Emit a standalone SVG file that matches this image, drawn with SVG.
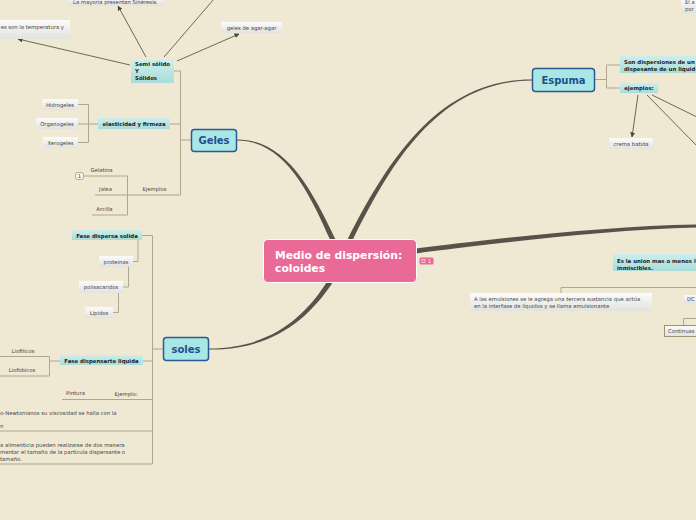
<svg xmlns="http://www.w3.org/2000/svg" width="696" height="520" viewBox="0 0 696 520">
<defs>
<linearGradient id="gLeaf" x1="0" y1="0" x2="0" y2="1"><stop offset="0" stop-color="#fbfbfb"/><stop offset="1" stop-color="#e2e2e0"/></linearGradient>
<linearGradient id="gSub" x1="0" y1="0" x2="0" y2="1"><stop offset="0" stop-color="#cdeeed"/><stop offset="1" stop-color="#a9dcda"/></linearGradient>
<marker id="ah" viewBox="0 0 6 6" refX="5.5" refY="3" markerWidth="5" markerHeight="5" markerUnits="userSpaceOnUse" orient="auto"><path d="M0,0 L6,3 L0,6 Z" fill="#4a463f"/></marker>
<style>
.bg{fill:#efe8d2}
.main{fill:#a9e7e4;stroke:#2a5a96;stroke-width:1.5}
.mt{font-family:"DejaVu Sans",Verdana,sans-serif;font-weight:bold;font-size:10px;fill:#1d4f91;text-anchor:middle}
.sub{fill:url(#gSub)}
.st{font-family:"DejaVu Sans",Verdana,sans-serif;font-weight:bold;font-size:5.4px;fill:#222}
.leaf{fill:url(#gLeaf)}
.lt{font-family:"DejaVu Sans",Verdana,sans-serif;font-size:5.3px;fill:#444}
.c{text-anchor:middle}
.br{fill:none;stroke:#b0a68f;stroke-width:1}
.ar{fill:none;stroke:#4a463f;stroke-width:0.8}
.trunk{fill:#57534b}
</style>
</defs>
<rect class="bg" x="0" y="0" width="696" height="520"/>

<g id="connectors">
<path class="trunk" d="M335.3,239 C311.4,189 285.6,139.2 237,139.5 L237,140.5 C284.4,140.8 308.6,191 330.7,241 Z"/>
<path class="trunk" d="M352.2,241.1 C391.6,160.9 440.5,80.9 532,80.5 L532,79.5 C439.5,79.1 388.4,159.1 347.8,238.9 Z"/>
<path class="trunk" d="M327.9,280.6 C303.7,318.8 269.7,348 209,348.5 L209,349.5 C270.3,350 306.3,321.2 332.1,283.4 Z"/>
<path class="trunk" d="M416,248.6 C480,240.5 600,226 696,224.4 L696,227.6 C600,230 480,245.5 416,253.4 Z"/>
<!-- Geles brackets -->
<path class="br" d="M174,71 H180.5 V195 M170,124 H180.5 M180.5,140 H191 M83,176 H127.5 V215 H92 M95,195 H180.5"/>
<path class="br" d="M78,104.5 H88.5 V142.5 H78 M78,124 H98"/>
<!-- soles brackets -->
<path class="br" d="M142,235.5 H152.5 V464 M152.5,349 H163 M143,361 H152.5 M0,356.5 H49.5 V376 H0 M49.5,361 H60 M62,399.5 H152.5 M0,431 H152.5 M0,464 H152.5"/>
<path class="br" d="M138,240 V261.5 H133 M128.5,267 V287 H123 M118.5,293 V312.5 H113"/>
<!-- Espuma brackets -->
<path class="br" d="M595,79.5 H606.5 M606.5,65 V88 M606.5,65 H620 M606.5,88 H620"/>
<!-- emulsion brackets -->
<path class="br" d="M561,293 V287.5 H696 M683.5,325 V318.5 H696"/>
<!-- arrows -->
<path class="ar" d="M130,65 L18,39" marker-end="url(#ah)"/>
<path class="ar" d="M146,57 L118,6" marker-end="url(#ah)"/>
<path class="ar" d="M164,57 L214,-1"/>
<path class="ar" d="M177,61 L239,34" marker-end="url(#ah)"/>
<path class="ar" d="M638,95 L632,137" marker-end="url(#ah)"/>
<path class="ar" d="M647,95 L697,146"/>
<path class="ar" d="M652,95 L697,117"/>
</g>

<g id="central">
<rect x="263.5" y="239.5" width="153" height="43" rx="4" fill="#e96a97" stroke="#ffffff" stroke-width="1"/>
<text x="275" y="259" font-family="'DejaVu Sans',Verdana,sans-serif" font-weight="bold" font-size="10.8" fill="#ffffff">Medio de dispersión:</text>
<text x="275" y="272" font-family="'DejaVu Sans',Verdana,sans-serif" font-weight="bold" font-size="10.8" fill="#ffffff">coloides</text>
</g>
<g id="badge">
<rect x="419.5" y="257.5" width="14" height="7" rx="1.5" fill="#e96a97"/>
<rect x="422" y="259.3" width="3" height="3" fill="none" stroke="#ffffff" stroke-width="0.6"/>
<text x="428" y="263.3" font-family="'DejaVu Sans',sans-serif" font-size="5" fill="#ffffff">1</text>
</g>

<g id="geles"><rect class="main" x="191.5" y="129.5" width="45" height="22" rx="3"/><text class="mt" x="214" y="144">Geles</text></g>
<g id="espuma"><rect class="main" x="532.5" y="68.5" width="62" height="23" rx="3"/><text class="mt" x="563.5" y="83.5">Espuma</text></g>
<g id="soles"><rect class="main" x="163.5" y="337.5" width="45" height="23" rx="3"/><text class="mt" x="186" y="352.5">soles</text></g>

<g id="semi"><rect class="sub" x="131" y="60" width="43" height="23"/><text class="st" x="135" y="66">Semi sólido</text><text class="st" x="135" y="73">Y</text><text class="st" x="135" y="80">Sólidos</text></g>
<g id="elasticidad"><rect class="sub" x="98" y="118" width="72" height="11"/><text class="st c" x="134" y="126">elasticidad y firmeza</text></g>
<g id="fase-solida"><rect class="sub" x="72" y="230" width="70" height="10"/><text class="st c" x="107" y="237.5">Fase dispersa solida</text></g>
<g id="fase-liquida"><rect class="sub" x="60" y="355" width="83" height="10"/><text class="st c" x="101.5" y="362.5">Fase dispensarte liquida</text></g>
<g id="son-dispersiones"><rect class="sub" x="620" y="56" width="80" height="17"/><text class="st" x="624" y="64">Son dispersiones de un</text><text class="st" x="624" y="71">dispesante de un liquid</text></g>
<g id="ejemplos-esp"><rect class="sub" x="620" y="83" width="38" height="10"/><text class="st c" x="639" y="90">ejemplos:</text></g>
<g id="es-la-union"><rect class="sub" x="613" y="254" width="90" height="17"/><text class="st" x="617" y="263">Es la union mas o menos l</text><text class="st" x="617" y="269.5">inmiscibles.</text></g>

<g id="la-mayoria"><rect class="leaf" x="68" y="-4" width="95" height="10"/><text class="lt c" x="115.5" y="4">La mayoria presentan Sinéresis.</text></g>
<g id="temperatura"><rect class="leaf" x="-5" y="20" width="75" height="19"/><text class="lt" x="64" y="29" text-anchor="end">es son la temperatura y</text></g>
<g id="agar"><rect class="leaf" x="221" y="22" width="61" height="11"/><text class="lt c" x="251.5" y="29.5">geles de agar-agar</text></g>
<g id="el-a"><rect class="leaf" x="681" y="-2" width="20" height="15"/><text class="lt" x="685" y="4">El a</text><text class="lt" x="685" y="10.5">por</text></g>
<g id="hidrogeles"><rect class="leaf" x="42" y="99" width="36" height="11"/><text class="lt c" x="60" y="106.5">Hidrogeles</text></g>
<g id="organogeles"><rect class="leaf" x="36" y="118" width="42" height="11"/><text class="lt c" x="57" y="125.5">Organogeles</text></g>
<g id="xerogeles"><rect class="leaf" x="43" y="137" width="35" height="11"/><text class="lt c" x="60.5" y="144.5">Xerogeles</text></g>
<g id="proteinas"><rect class="leaf" x="99" y="256" width="34" height="11"/><text class="lt c" x="116" y="263.5">proteinas</text></g>
<g id="polisacaridos"><rect class="leaf" x="79" y="281" width="44" height="12"/><text class="lt c" x="101" y="289">polisacaridos</text></g>
<g id="lipidos"><rect class="leaf" x="85" y="307" width="28" height="11"/><text class="lt c" x="99" y="314.5">Lipidos</text></g>
<g id="crema"><rect class="leaf" x="609" y="138" width="44" height="11"/><text class="lt c" x="631" y="145.5">crema batida</text></g>
<g id="emulsionante"><rect class="leaf" x="470" y="293" width="182" height="18"/><text class="lt" x="474" y="301">A las emulsiones se le agrega una tercera sustancia que actúa</text><text class="lt" x="474" y="308">en la interfase de líquidos y se llama emulsionante</text></g>
<g id="dc"><rect class="leaf" x="684" y="295" width="15" height="8"/><text class="lt" x="687" y="301">DC</text></g>
<g id="continuas"><rect class="leaf" x="664.5" y="325.5" width="40" height="11" stroke="#9b9070" stroke-width="1"/><text class="lt" x="668" y="333">Continuas</text></g>

<g id="badge-1"><rect x="75.5" y="172.5" width="8" height="7" rx="2" fill="#f4f2ec" stroke="#9a9486" stroke-width="0.7"/><text class="lt c" x="79.5" y="178" font-size="4.5">1</text></g>
<g id="gelatina"><text class="lt c" x="101.5" y="172">Gelatina</text></g>
<g id="jalea"><text class="lt c" x="105.5" y="191">Jalea</text></g>
<g id="arcilla"><text class="lt c" x="104.5" y="211">Arcilla</text></g>
<g id="ejemplos-geles"><text class="lt c" x="154.5" y="191">Ejemplos</text></g>
<g id="liofilicos"><text class="lt c" x="23" y="353">Liofilicos</text></g>
<g id="liofobicos"><text class="lt c" x="22" y="372">Liofobicos</text></g>
<g id="pintura"><text class="lt c" x="75.5" y="395">Pintura</text></g>
<g id="ejemplo-soles"><text class="lt c" x="126" y="396">Ejemplo:</text></g>
<g id="newtonianos"><text class="lt" x="0" y="415">o-Newtonianos su viscosidad se halla con la</text><text class="lt" x="0" y="428">n</text></g>
<g id="alimenticia"><text class="lt" x="0" y="447">a alimenticia pueden realizarse de dos manera</text><text class="lt" x="0" y="454">mentar el tamaño de la partícula dispersante o</text><text class="lt" x="0" y="460.5">tamaño.</text></g>
</svg>
